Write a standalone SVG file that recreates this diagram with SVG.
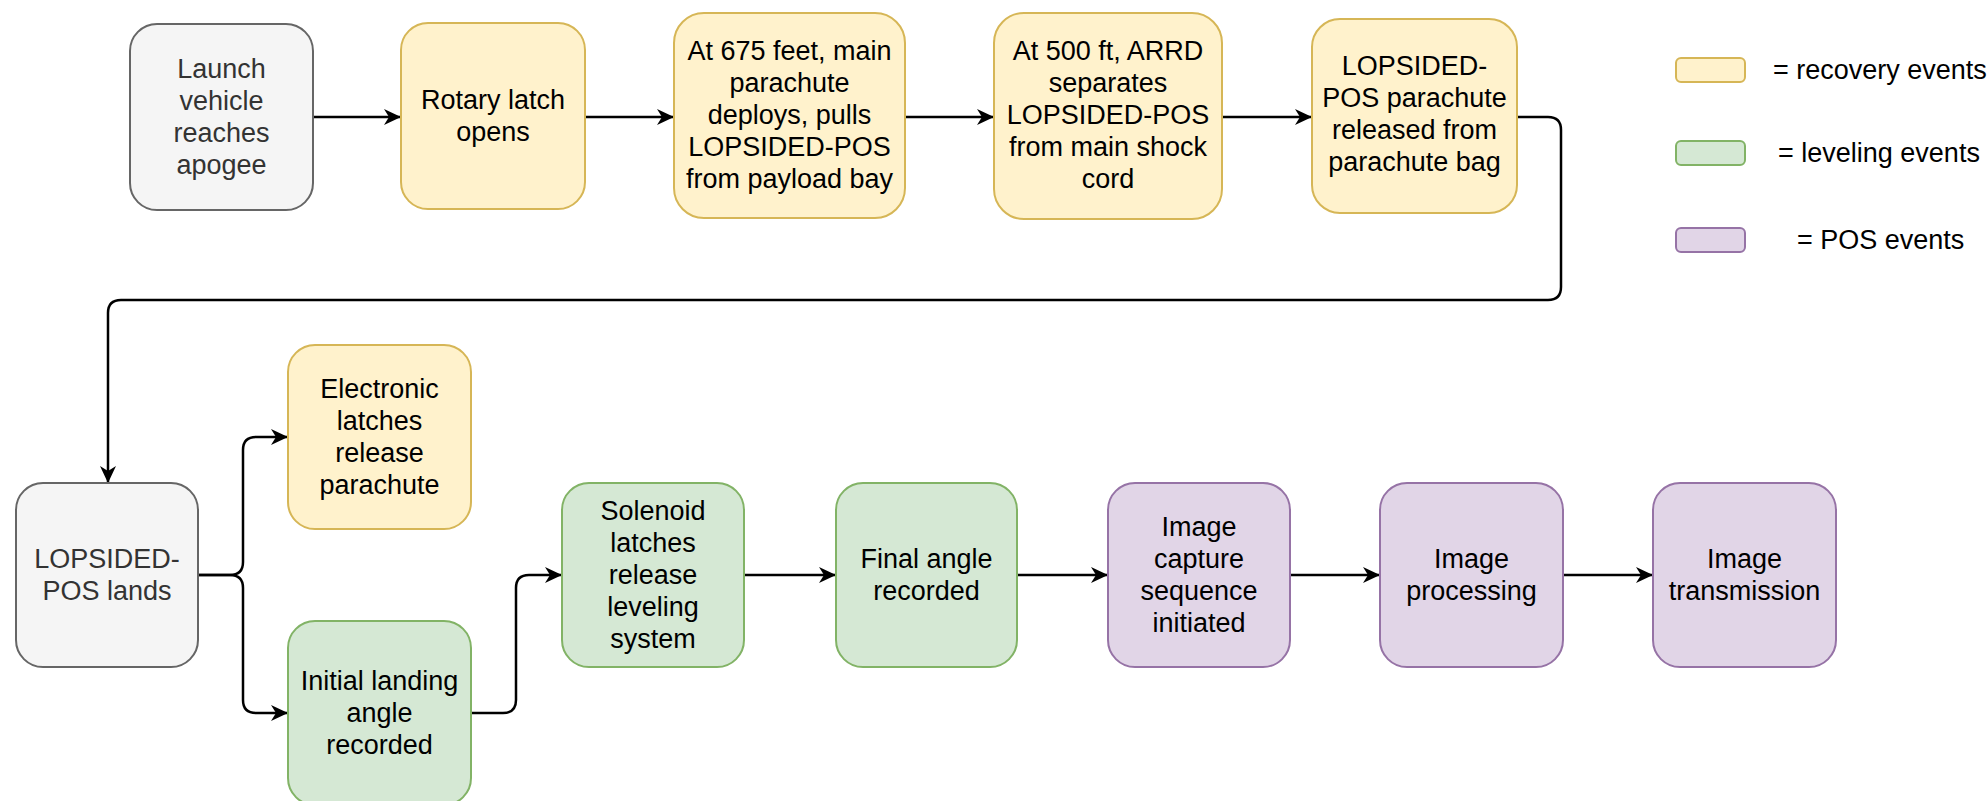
<svg xmlns="http://www.w3.org/2000/svg" width="1987" height="801" viewBox="0 0 1987 801">
<defs>
<style>
.n rect{stroke-width:2}
.gray rect{fill:#f5f5f5;stroke:#666666}
.yel rect{fill:#fff2cc;stroke:#d6b656}
.grn rect{fill:#d5e8d4;stroke:#82b366}
.pur rect{fill:#e1d5e7;stroke:#9673a6}
text{font-family:"Liberation Sans",Arial,sans-serif;font-size:27px;fill:#000;text-anchor:middle;dominant-baseline:central}
.gray text{fill:#333333}
.leg text{text-anchor:start}
.c path{fill:none;stroke:#000;stroke-width:2.5;marker-end:url(#arr)}
</style>
<marker id="arr" markerUnits="userSpaceOnUse" markerWidth="18" markerHeight="16" refX="17" refY="8" orient="auto">
<path d="M0,0 L17,8 L0,16 L5,8 Z" fill="#000"/>
</marker>
</defs>
<rect width="1987" height="801" fill="#fff"/>
<g class="c" id="connectors">
<path d="M313,117 H401"/>
<path d="M585,117 H674"/>
<path d="M905,117 H994"/>
<path d="M1222,117 H1312"/>
<path d="M1517,117 H1548 Q1561,117 1561,130 V287 Q1561,300 1548,300 H121 Q108,300 108,313 V483"/>
<path d="M198,575 H230 Q243,575 243,562 V450 Q243,437 256,437 H288"/>
<path d="M198,575 H230 Q243,575 243,588 V700 Q243,713 256,713 H288"/>
<path d="M471,713 H503 Q516,713 516,700 V588 Q516,575 529,575 H562"/>
<path d="M744,575 H836"/>
<path d="M1017,575 H1108"/>
<path d="M1290,575 H1380"/>
<path d="M1563,575 H1653"/>
</g>
<g id="launch" class="n gray"><rect x="130" y="24" width="183" height="186" rx="27"/>
<text x="221.5" y="69">Launch</text><text x="221.5" y="101">vehicle</text><text x="221.5" y="133">reaches</text><text x="221.5" y="165">apogee</text></g>
<g id="rotary" class="n yel"><rect x="401" y="23" width="184" height="186" rx="27"/>
<text x="493" y="100">Rotary latch</text><text x="493" y="132">opens</text></g>
<g id="at675" class="n yel"><rect x="674" y="13" width="231" height="205" rx="30"/>
<text x="789.5" y="51">At 675 feet, main</text><text x="789.5" y="83">parachute</text><text x="789.5" y="115">deploys, pulls</text><text x="789.5" y="147">LOPSIDED-POS</text><text x="789.5" y="179">from payload bay</text></g>
<g id="at500" class="n yel"><rect x="994" y="13" width="228" height="206" rx="30"/>
<text x="1108" y="51">At 500 ft, ARRD</text><text x="1108" y="83">separates</text><text x="1108" y="115">LOPSIDED-POS</text><text x="1108" y="147">from main shock</text><text x="1108" y="179">cord</text></g>
<g id="released" class="n yel"><rect x="1312" y="19" width="205" height="194" rx="28"/>
<text x="1414.5" y="66">LOPSIDED-</text><text x="1414.5" y="98">POS parachute</text><text x="1414.5" y="130">released from</text><text x="1414.5" y="162">parachute bag</text></g>
<g id="lands" class="n gray"><rect x="16" y="483" width="182" height="184" rx="27"/>
<text x="107" y="559">LOPSIDED-</text><text x="107" y="591">POS lands</text></g>
<g id="electronic" class="n yel"><rect x="288" y="345" width="183" height="184" rx="27"/>
<text x="379.5" y="389">Electronic</text><text x="379.5" y="421">latches</text><text x="379.5" y="453">release</text><text x="379.5" y="485">parachute</text></g>
<g id="initial" class="n grn"><rect x="288" y="621" width="183" height="184" rx="27"/>
<text x="379.5" y="681">Initial landing</text><text x="379.5" y="713">angle</text><text x="379.5" y="745">recorded</text></g>
<g id="solenoid" class="n grn"><rect x="562" y="483" width="182" height="184" rx="27"/>
<text x="653" y="511">Solenoid</text><text x="653" y="543">latches</text><text x="653" y="575">release</text><text x="653" y="607">leveling</text><text x="653" y="639">system</text></g>
<g id="final" class="n grn"><rect x="836" y="483" width="181" height="184" rx="27"/>
<text x="926.5" y="559">Final angle</text><text x="926.5" y="591">recorded</text></g>
<g id="capture" class="n pur"><rect x="1108" y="483" width="182" height="184" rx="27"/>
<text x="1199" y="527">Image</text><text x="1199" y="559">capture</text><text x="1199" y="591">sequence</text><text x="1199" y="623">initiated</text></g>
<g id="processing" class="n pur"><rect x="1380" y="483" width="183" height="184" rx="27"/>
<text x="1471.5" y="559">Image</text><text x="1471.5" y="591">processing</text></g>
<g id="transmission" class="n pur"><rect x="1653" y="483" width="183" height="184" rx="27"/>
<text x="1744.5" y="559">Image</text><text x="1744.5" y="591">transmission</text></g>
<g id="legend" class="leg">
<g class="n yel"><rect x="1676" y="58" width="69" height="24" rx="5"/><text x="1773" y="70">= recovery events</text></g>
<g class="n grn"><rect x="1676" y="141" width="69" height="24" rx="5"/><text x="1778" y="153">= leveling events</text></g>
<g class="n pur"><rect x="1676" y="228" width="69" height="24" rx="5"/><text x="1797" y="240">= POS events</text></g>
</g>
</svg>
